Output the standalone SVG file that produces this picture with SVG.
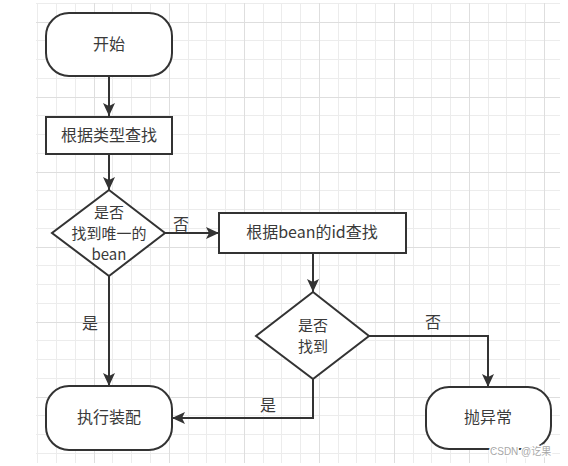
<svg xmlns="http://www.w3.org/2000/svg" width="568" height="466" viewBox="0 0 568 466">
<defs>
<marker id="arr" markerUnits="userSpaceOnUse" markerWidth="14" markerHeight="12" viewBox="0 0 14 12" refX="13" refY="6" orient="auto">
<path d="M0,0 L13,6 L0,12 L3,6 Z" fill="#333"/>
</marker>
</defs>
<style>
.minor{stroke:#ececec;stroke-width:1;fill:none}
.major{stroke:#dedede;stroke-width:1;fill:none}
.shape{fill:#fff;stroke:#333;stroke-width:2}
.edge{fill:none;stroke:#333;stroke-width:2}
.t{font-family:"Noto Sans CJK SC","Microsoft YaHei",sans-serif;font-size:16px;fill:#3a3a3a;text-anchor:middle}
.d{font-size:15px}
.wm{font-family:"Liberation Sans","Noto Sans CJK SC",sans-serif;font-size:10px;fill:#a8a8a8;stroke:#fff;stroke-width:3;paint-order:stroke}
</style>
<rect width="568" height="466" fill="#fff"/>
<g id="grid">
<path class="minor" d="M37.5,3V463M56.5,3V463M75.5,3V463M112.5,3V463M131.5,3V463M150.5,3V463M188.5,3V463M206.5,3V463M225.5,3V463M263.5,3V463M281.5,3V463M300.5,3V463M338.5,3V463M356.5,3V463M375.5,3V463M413.5,3V463M431.5,3V463M450.5,3V463M488.5,3V463M506.5,3V463M525.5,3V463
M36,3.5H560M36,40.5H560M36,59.5H560M36,78.5H560M36,115.5H560M36,134.5H560M36,153.5H560M36,190.5H560M36,209.5H560M36,228.5H560M36,265.5H560M36,284.5H560M36,303.5H560M36,340.5H560M36,359.5H560M36,378.5H560M36,415.5H560M36,434.5H560M36,453.5H560"/>
<path class="major" d="M94.5,3V463M169.5,3V463M244.5,3V463M319.5,3V463M394.5,3V463M469.5,3V463M544.5,3V463
M36,22.5H560M36,97.5H560M36,172.5H560M36,247.5H560M36,322.5H560M36,397.5H560"/>
</g>
<g id="connectors">
<path class="edge" d="M109,76V116" marker-end="url(#arr)"/>
<path class="edge" d="M109,154V190" marker-end="url(#arr)"/>
<path class="edge" d="M165,233H219" marker-end="url(#arr)"/>
<path class="edge" d="M313,253V292" marker-end="url(#arr)"/>
<path class="edge" d="M109,276V386" marker-end="url(#arr)"/>
<path class="edge" d="M313,379V418H172" marker-end="url(#arr)"/>
<path class="edge" d="M369,336H488V387" marker-end="url(#arr)"/>
<text class="t" x="181" y="230">否</text>
<text class="t" x="90" y="329">是</text>
<text class="t" x="433" y="328">否</text>
<text class="t" x="268" y="411">是</text>
</g>
<g id="start">
<rect class="shape" x="46" y="13" width="126" height="63" rx="23" ry="23"/>
<text class="t" x="109" y="50">开始</text>
</g>
<g id="findByType">
<rect class="shape" x="46" y="117" width="126" height="37"/>
<text class="t" x="109" y="141">根据类型查找</text>
</g>
<g id="uniqueCheck">
<polygon class="shape" points="109,190 165,233 109,276 52,233"/>
<text class="t d" x="109" y="218">是否</text>
<text class="t d" x="109" y="239">找到唯一的</text>
<text class="t d" x="109" y="260">bean</text>
</g>
<g id="findById">
<rect class="shape" x="219" y="213" width="187" height="40"/>
<text class="t" x="312" y="238">根据bean的id查找</text>
</g>
<g id="foundCheck">
<polygon class="shape" points="313,292 369,336 313,379 256,336"/>
<text class="t d" x="313" y="331">是否</text>
<text class="t d" x="313" y="352">找到</text>
</g>
<g id="assemble">
<rect class="shape" x="46" y="386" width="126" height="64" rx="23" ry="23"/>
<text class="t" x="109" y="423">执行装配</text>
</g>
<g id="throwEx">
<rect class="shape" x="426" y="387" width="125" height="62" rx="23" ry="23"/>
<text class="t" x="488" y="423">抛异常</text>
</g>
<text class="wm" x="490" y="455">CSDN @讫果</text>
</svg>
